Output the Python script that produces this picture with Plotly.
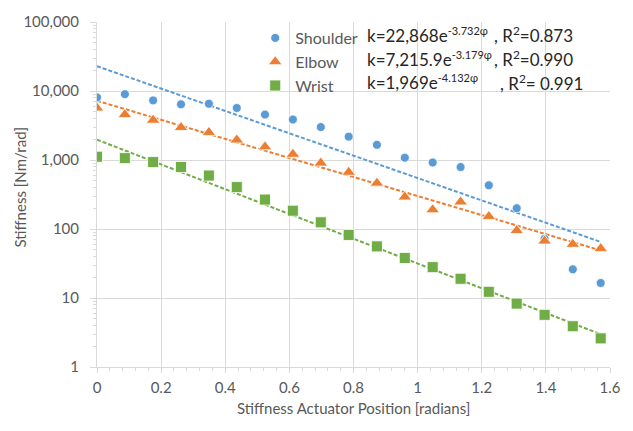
import numpy as np
import plotly.graph_objects as go

# ---- data ----
positions = [0, 0.087, 0.175, 0.262, 0.349, 0.436, 0.524, 0.611, 0.698, 0.785,
             0.873, 0.960, 1.047, 1.134, 1.222, 1.309, 1.396, 1.484, 1.571]
shoulder = [8070, 9000, 7310, 6410, 6540, 5670, 4550, 3860, 3000, 2180,
            1660, 1080, 920, 790, 430, 200, 72, 26, 16.5]
elbow = [5670, 4550, 3780, 2960, 2510, 1950, 1550, 1210, 903, 664,
         462, 291, 190, 247, 152, 95, 67, 60, 52]
wrist = [1115, 1065, 933, 791, 595, 405, 267, 184, 125, 82,
         56, 38, 28, 19, 12.3, 8.3, 5.7, 3.9, 2.6]

series_names = ["Shoulder", "Elbow", "Wrist"]
fit_coef = [22868, 7215.9, 1969]
fit_rate = [3.732, 3.179, 4.132]
eq_main = ["k=22,868e", "k=7,215.9e", "k=1,969e"]
eq_exp = ["-3.732φ", "-3.179φ", "-4.132φ"]
r2_texts = [", R<sup>2</sup>=0.873", ", R<sup>2</sup>=0.990", ", R<sup>2</sup>= 0.991"]

x_ticks = [0, 0.2, 0.4, 0.6, 0.8, 1, 1.2, 1.4, 1.6]
y_tickvals = [1, 10, 100, 1000, 10000, 100000]
y_ticktext = ["1", "10", "100", "1,000", "10,000", "100,000"]

colors = ["#5B9BD5", "#ED7D31", "#70AD47"]
symbols = ["circle", "triangle-up", "square"]
sizes = [9, 12, 11]

FONT = "Lato"
fig = go.Figure()

values = [shoulder, elbow, wrist]
xt = np.linspace(0, positions[-1], 60)
for i in range(3):
    fig.add_trace(go.Scatter(
        x=xt, y=fit_coef[i] * np.exp(-fit_rate[i] * xt), mode="lines",
        line=dict(color=colors[i], width=2, dash="4px,2px"),
        showlegend=False, hoverinfo="skip"))
for i in range(3):
    fig.add_trace(go.Scatter(
        x=positions, y=values[i], mode="markers", name=series_names[i],
        legendgroup=series_names[i],
        marker=dict(symbol=symbols[i], size=sizes[i], color=colors[i],
                    line=dict(color="white", width=0.8))))

# white box behind legend / equations
fig.add_shape(type="rect", xref="paper", yref="paper",
              x0=(262 - 97) / 522, x1=(598 - 97) / 522,
              y0=(367 - 100) / 349, y1=(367 - 24) / 349,
              fillcolor="white", line=dict(width=0), layer="between")

row_px = [31, 55, 79]
ann = []
for i in range(3):
    yp = (367 - row_px[i]) / 349
    txt = eq_main[i] + "<sup><span style='font-size:11px'>" + eq_exp[i] + "</span></sup>"
    ann.append(dict(x=(370 - 97) / 522, y=yp, xref="paper", yref="paper", text=txt,
                    showarrow=False, xanchor="left", yanchor="middle",
                    font=dict(family=FONT, size=17, color="#262626")))
    ann.append(dict(x=((499 if i < 2 else 505) - 97) / 522, y=yp, xref="paper", yref="paper",
                    text=r2_texts[i], showarrow=False, xanchor="left", yanchor="middle",
                    font=dict(family=FONT, size=17, color="#262626")))
ann.append(dict(x=(19 - 97) / 522, y=(367 - 185) / 349, xref="paper", yref="paper",
                text="Stiffness [Nm/rad]", textangle=-90, showarrow=False,
                xanchor="center", yanchor="middle",
                font=dict(family=FONT, size=15, color="#595959")))
ann.append(dict(x=0.5, y=(367 - 408) / 349, xref="paper", yref="paper",
                text="Stiffness Actuator Position [radians]", showarrow=False,
                xanchor="center", yanchor="middle",
                font=dict(family=FONT, size=15, color="#595959")))

grid = "#d9d9d9"
fig.update_layout(
    width=633, height=431,
    margin=dict(l=97, r=14, t=18, b=64),
    paper_bgcolor="white", plot_bgcolor="white",
    font=dict(family=FONT, color="#595959"),
    annotations=ann,
    legend=dict(x=(258 - 97) / 522, y=(367 - 17) / 349, xanchor="left", yanchor="top",
                bgcolor="rgba(0,0,0,0)", traceorder="grouped", tracegroupgap=0,
                font=dict(family=FONT, size=16, color="#595959")),
    xaxis=dict(range=[0, 1.6], tickvals=x_ticks, showgrid=True, gridcolor=grid, gridwidth=1,
               showline=True, linecolor=grid, linewidth=1, zeroline=False,
               ticks="outside", ticklen=5, tickcolor=grid,
               minor=dict(ticks="outside", ticklen=3, dtick=0.04, tick0=0, tickcolor=grid, showgrid=False),
               tickfont=dict(family=FONT, size=15, color="#595959"), ticklabelstandoff=2),
    yaxis=dict(type="log", range=[0, 5], tickvals=y_tickvals, ticktext=y_ticktext,
               showgrid=True, gridcolor=grid, gridwidth=1,
               showline=True, linecolor=grid, linewidth=1, zeroline=False,
               ticks="outside", ticklen=6, tickcolor=grid,
               minor=dict(ticks="outside", ticklen=3, dtick="D1", tickcolor=grid, showgrid=False),
               tickfont=dict(family=FONT, size=15, color="#595959"), ticklabelstandoff=8),
)

fig.write_html("out.html")
